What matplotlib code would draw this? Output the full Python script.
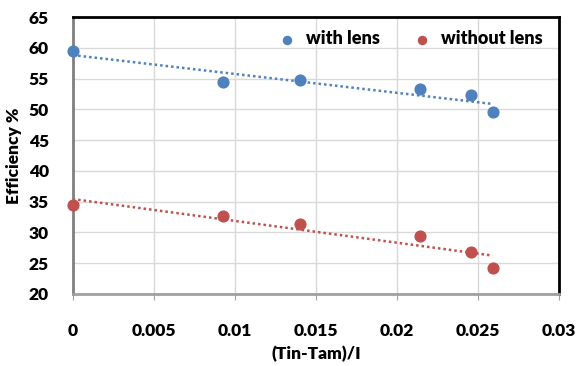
import numpy as np
import matplotlib
matplotlib.use("Agg")
import matplotlib.pyplot as plt

plt.rcParams['font.family'] = ['Lato', 'DejaVu Sans']
plt.rcParams['font.weight'] = 'heavy'

# data
x_vals = [0.0, 0.0093, 0.0140, 0.0214, 0.0246, 0.0259]
with_lens = [59.5, 54.4, 54.7, 53.3, 52.3, 49.5]
without_lens = [34.4, 32.7, 31.3, 29.4, 26.8, 24.2]
x_ticks = [0, 0.005, 0.01, 0.015, 0.02, 0.025, 0.03]
x_tick_labels = ['0', '0.005', '0.01', '0.015', '0.02', '0.025', '0.03']
y_ticks = [20, 25, 30, 35, 40, 45, 50, 55, 60, 65]

blue = '#4F81BD'
red = '#C0504D'

fig = plt.figure(figsize=(5.82, 3.66), dpi=100)
ax = fig.add_axes([72.7 / 582, 1 - 294 / 366, (559 - 72.7) / 582, (294 - 17) / 366])

xs = np.array(x_vals)
for ys, col, lab in [(with_lens, blue, 'with lens'), (without_lens, red, 'without lens')]:
    ax.scatter(xs, ys, s=60, color=col, zorder=3, label=lab, clip_on=False)
    k, b = np.polyfit(xs, ys, 1)
    ax.plot([xs.min(), xs.max()], [b, k * xs.max() + b], color=col,
            linestyle=(0, (1, 1.2)), linewidth=1.8, zorder=2)

ax.set_xlim(0, 0.03)
ax.set_ylim(20, 65)
ax.set_xticks(x_ticks)
ax.set_xticklabels(x_tick_labels)
ax.set_yticks(y_ticks)
ax.grid(True, color='#D9D9D9', linewidth=1)
ax.set_axisbelow(True)

ax.tick_params(axis='x', length=4, color='#A0A0A0', pad=17, labelsize=12.5)
ax.tick_params(axis='y', length=0, pad=17, labelsize=12.5)
for lbl in ax.get_xticklabels() + ax.get_yticklabels():
    lbl.set_fontweight('heavy')

ax.spines['left'].set_color('#808080')
ax.spines['left'].set_linewidth(2)
ax.spines['bottom'].set_color('#A0A0A0')
ax.spines['bottom'].set_linewidth(2)
ax.spines['top'].set_color('black')
ax.spines['top'].set_linewidth(2)
ax.spines['right'].set_color('black')
ax.spines['right'].set_linewidth(2)

ax.set_xlabel('(Tin-Tam)/I', fontsize=12.5, fontweight='heavy', labelpad=5)
ax.set_ylabel('Efficiency %', fontsize=12.5, fontweight='heavy', labelpad=5)

leg = ax.legend(loc='upper center', bbox_to_anchor=(0.685, 1.01), ncol=2, frameon=False,
                fontsize=13, handletextpad=0.05, columnspacing=1.3, markerscale=0.75)
for t in leg.get_texts():
    t.set_fontweight('heavy')

fig.savefig('out.png', dpi=100)
